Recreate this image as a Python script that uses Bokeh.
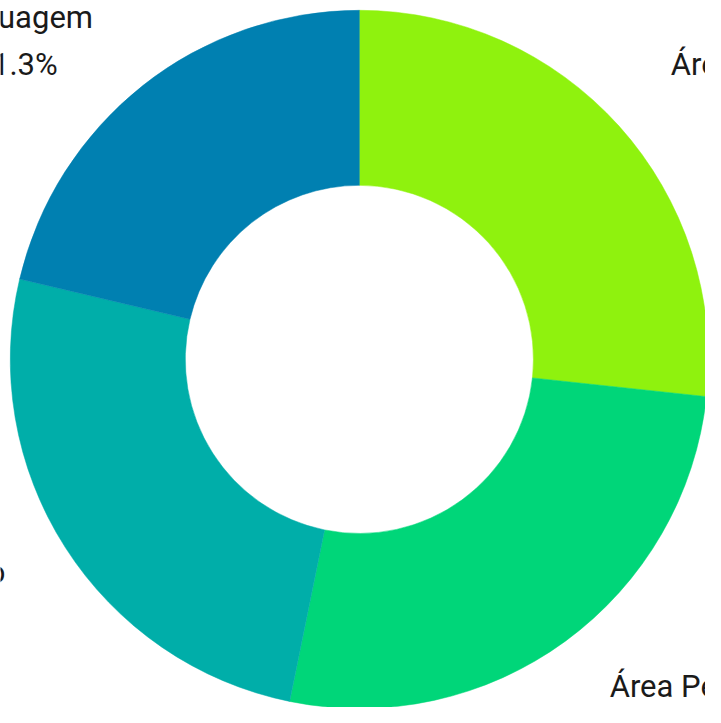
import numpy as np
from bokeh.plotting import figure
from bokeh.models import Range1d, ColumnDataSource
from bokeh.core.properties import value
from bokeh.embed import file_html
from bokeh.resources import INLINE

# Data
categories = ["Área Técnica", "Área Pedagógica", "Raciocínio Lógico", "Linguagem"]
shares = [26.7, 26.5, 25.5, 21.3]
colors = ["#8FF20E", "#00D679", "#00AEA9", "#0080B1"]
pct_labels = ["26.7%", "26.5%", "25.5%", "21.3%"]

# label anchor positions (reference px: center x, baseline of first line)
label_x = [777, 743, -120, 16]
label_y = [65, 702, 585, 17]

W, H = 705, 707
p = figure(width=W, height=H, output_backend="svg", toolbar_location=None,
           x_range=Range1d(0, 721), y_range=Range1d(-723, 0),
           min_border=0)
p.axis.visible = False
p.grid.visible = False
p.outline_line_color = None
p.background_fill_color = "white"
p.border_fill_color = "white"

fr = np.array(shares) / sum(shares)
cum = np.concatenate([[0], np.cumsum(fr)])
start = np.pi / 2 - cum[:-1] * 2 * np.pi
end = np.pi / 2 - cum[1:] * 2 * np.pi

src = ColumnDataSource(dict(start=start, end=end, color=colors, cat=categories))
p.annular_wedge(x=367, y=-367, inner_radius=178, outer_radius=357,
                start_angle="start", end_angle="end", direction="clock",
                fill_color="color", line_color="color", line_width=0.5, source=src)

tx = label_x + label_x
ty = [-y for y in label_y] + [-(y + 48) for y in label_y]
tt = categories + pct_labels
p.text(x=tx, y=ty, text=tt, text_align="center", text_baseline="alphabetic",
       text_font=value("Roboto"), text_font_size="31px", text_color="#1a1a1a")

open("out.html", "w").write(file_html(p, INLINE))
